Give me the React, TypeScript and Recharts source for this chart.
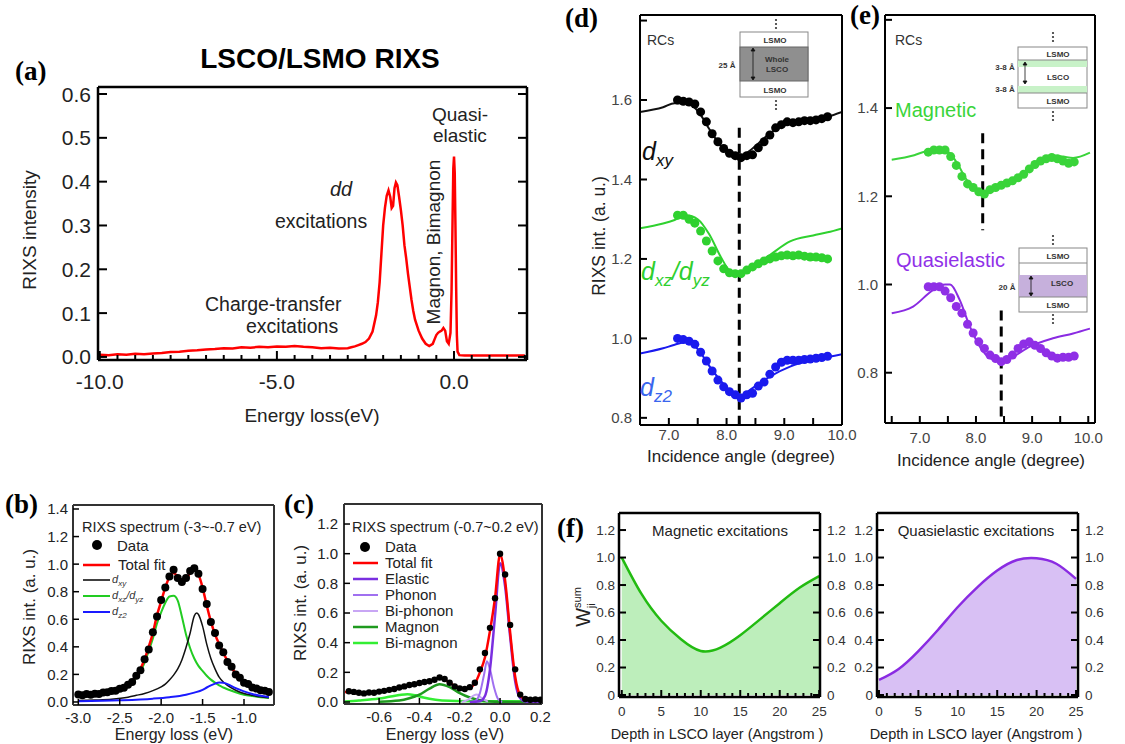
import { LineChart, Line, XAxis, YAxis, AreaChart, Area } from 'recharts'

const SANS = '"Liberation Sans", Arial, Helvetica, sans-serif'
const SERIF = '"Liberation Serif", "Times New Roman", serif'

// (a) full RIXS spectrum
const aEnergy = [-10.0, -9.75, -9.5, -9.25, -9.0, -8.75, -8.5, -8.25, -8.0, -7.75, -7.5, -7.25, -7.0, -6.75, -6.5, -6.25, -6.0, -5.75, -5.5, -5.25, -5.0, -4.75, -4.5, -4.25, -4.0, -3.75, -3.5, -3.25, -3.0, -2.9, -2.8, -2.7, -2.6, -2.5, -2.4, -2.3, -2.2, -2.15, -2.1, -2.05, -2.0, -1.95, -1.9, -1.85, -1.8, -1.76, -1.72, -1.68, -1.64, -1.6, -1.55, -1.5, -1.45, -1.4, -1.35, -1.3, -1.25, -1.2, -1.15, -1.1, -1.0, -0.9, -0.8, -0.7, -0.6, -0.55, -0.5, -0.45, -0.4, -0.35, -0.3, -0.25, -0.2, -0.15, -0.1, -0.07, -0.04, -0.02, 0.0, 0.02, 0.04, 0.06, 0.08, 0.1, 0.15, 0.3, 0.6, 1.0, 1.5, 2.0]
const aIntensity = [0.005, 0.004, 0.006, 0.005, 0.007, 0.006, 0.008, 0.009, 0.011, 0.012, 0.014, 0.015, 0.017, 0.018, 0.020, 0.019, 0.022, 0.021, 0.023, 0.022, 0.024, 0.023, 0.025, 0.023, 0.022, 0.020, 0.021, 0.019, 0.020, 0.022, 0.024, 0.027, 0.030, 0.034, 0.042, 0.058, 0.095, 0.125, 0.170, 0.235, 0.300, 0.340, 0.368, 0.380, 0.365, 0.340, 0.345, 0.385, 0.398, 0.392, 0.365, 0.335, 0.300, 0.255, 0.225, 0.190, 0.160, 0.130, 0.105, 0.085, 0.060, 0.042, 0.030, 0.025, 0.030, 0.040, 0.050, 0.055, 0.058, 0.060, 0.066, 0.060, 0.036, 0.030, 0.055, 0.150, 0.320, 0.430, 0.457, 0.420, 0.300, 0.160, 0.050, 0.012, 0.004, 0.003, 0.003, 0.003, 0.003, 0.003]
const aXTicks = [-10, -9.5, -9, -8.5, -8, -7.5, -7, -6.5, -6, -5.5, -5, -4.5, -4, -3.5, -3, -2.5, -2, -1.5, -1, -0.5, 0, 0.5, 1, 1.5, 2]
const aXMajor = [-10, -5, 0]
const aYTicks = [0, 0.1, 0.2, 0.3, 0.4, 0.5, 0.6]

// (b) dd region fit
const bE = [-3.0, -2.95, -2.9, -2.85, -2.8, -2.75, -2.7, -2.65, -2.6, -2.55, -2.5, -2.45, -2.4, -2.35, -2.3, -2.25, -2.2, -2.15, -2.1, -2.05, -2.0, -1.95, -1.9, -1.85, -1.8, -1.75, -1.7, -1.65, -1.6, -1.55, -1.5, -1.45, -1.4, -1.35, -1.3, -1.25, -1.2, -1.15, -1.1, -1.05, -1.0, -0.95, -0.9, -0.85, -0.8, -0.75, -0.7]
const bData = [0.055, 0.048, 0.057, 0.052, 0.060, 0.058, 0.068, 0.070, 0.080, 0.082, 0.096, 0.103, 0.125, 0.145, 0.190, 0.230, 0.310, 0.380, 0.505, 0.620, 0.740, 0.830, 0.910, 0.960, 0.900, 0.870, 0.900, 0.950, 0.970, 0.930, 0.820, 0.710, 0.580, 0.500, 0.410, 0.360, 0.290, 0.255, 0.200, 0.175, 0.140, 0.130, 0.105, 0.098, 0.085, 0.082, 0.072]
const bFit = [0.050, 0.052, 0.054, 0.056, 0.058, 0.062, 0.066, 0.071, 0.077, 0.084, 0.093, 0.105, 0.122, 0.148, 0.188, 0.240, 0.310, 0.400, 0.500, 0.630, 0.730, 0.830, 0.905, 0.935, 0.910, 0.880, 0.895, 0.935, 0.955, 0.925, 0.830, 0.700, 0.585, 0.490, 0.420, 0.355, 0.300, 0.250, 0.205, 0.170, 0.145, 0.125, 0.108, 0.095, 0.086, 0.079, 0.074]
const bXzE = [-3.0, -2.9, -2.8, -2.7, -2.6, -2.5, -2.45, -2.4, -2.35, -2.3, -2.25, -2.2, -2.15, -2.1, -2.05, -2.0, -1.95, -1.9, -1.85, -1.8, -1.75, -1.7, -1.65, -1.6, -1.55, -1.5, -1.45, -1.4, -1.35, -1.3, -1.25, -1.2, -1.1, -1.0, -0.9, -0.8, -0.7]
const bXz = [0.037, 0.042, 0.048, 0.056, 0.068, 0.085, 0.098, 0.115, 0.140, 0.175, 0.220, 0.285, 0.370, 0.460, 0.570, 0.650, 0.720, 0.765, 0.770, 0.735, 0.620, 0.490, 0.390, 0.315, 0.262, 0.225, 0.190, 0.162, 0.140, 0.120, 0.105, 0.092, 0.070, 0.053, 0.043, 0.035, 0.029]
const bXyE = [-3.0, -2.8, -2.6, -2.4, -2.3, -2.2, -2.1, -2.0, -1.95, -1.9, -1.85, -1.8, -1.75, -1.7, -1.65, -1.6, -1.57, -1.55, -1.5, -1.45, -1.4, -1.35, -1.3, -1.25, -1.2, -1.1, -1.0, -0.9, -0.8, -0.7]
const bXy = [0.010, 0.014, 0.020, 0.035, 0.048, 0.062, 0.082, 0.110, 0.130, 0.160, 0.195, 0.240, 0.305, 0.395, 0.500, 0.625, 0.645, 0.635, 0.550, 0.420, 0.315, 0.240, 0.180, 0.145, 0.120, 0.085, 0.062, 0.048, 0.037, 0.030]
const bZ2E = [-3.0, -2.5, -2.1, -1.9, -1.7, -1.6, -1.5, -1.45, -1.4, -1.35, -1.3, -1.25, -1.2, -1.15, -1.1, -1.0, -0.9, -0.8, -0.7]
const bZ2 = [0.005, 0.012, 0.024, 0.035, 0.053, 0.068, 0.088, 0.105, 0.120, 0.133, 0.142, 0.140, 0.130, 0.115, 0.100, 0.077, 0.058, 0.045, 0.036]
const bXTicks = [-3, -2.5, -2, -1.5, -1]
const bYTicks = [0, 0.2, 0.4, 0.6, 0.8, 1.0, 1.2, 1.4]

// (c) low-energy fit
const cE = [-0.75, -0.725, -0.7, -0.675, -0.65, -0.625, -0.6, -0.575, -0.55, -0.525, -0.5, -0.475, -0.45, -0.425, -0.4, -0.375, -0.35, -0.325, -0.3, -0.275, -0.25, -0.225, -0.2, -0.175, -0.15, -0.125, -0.1, -0.075, -0.05, -0.025, 0.0, 0.025, 0.05, 0.075, 0.1, 0.125, 0.15, 0.175, 0.2]
const cData = [0.072, 0.068, 0.062, 0.058, 0.064, 0.062, 0.070, 0.075, 0.082, 0.088, 0.098, 0.105, 0.115, 0.120, 0.128, 0.135, 0.140, 0.150, 0.165, 0.155, 0.130, 0.105, 0.092, 0.088, 0.100, 0.130, 0.220, 0.330, 0.500, 0.700, 1.000, 0.860, 0.520, 0.220, 0.050, 0.020, 0.015, 0.018, 0.015]
const cFitE = [-0.77, -0.75, -0.7, -0.65, -0.6, -0.55, -0.5, -0.45, -0.4, -0.35, -0.3, -0.275, -0.25, -0.225, -0.2, -0.175, -0.15, -0.125, -0.1, -0.075, -0.05, -0.025, 0.0, 0.025, 0.05, 0.075, 0.1, 0.125, 0.15, 0.2]
const cFit = [0.068, 0.066, 0.060, 0.060, 0.066, 0.080, 0.096, 0.112, 0.124, 0.140, 0.160, 0.150, 0.130, 0.110, 0.095, 0.090, 0.098, 0.125, 0.200, 0.300, 0.480, 0.700, 0.995, 0.820, 0.470, 0.170, 0.045, 0.020, 0.018, 0.018]
const cElasticE = [-0.15, -0.1, -0.075, -0.05, -0.025, 0.0, 0.025, 0.05, 0.075, 0.1, 0.125, 0.2]
const cElastic = [0.0, 0.005, 0.04, 0.22, 0.58, 0.935, 0.78, 0.44, 0.14, 0.025, 0.003, 0.0]
const cPhononE = [-0.14, -0.12, -0.1, -0.08, -0.065, -0.05, -0.03, -0.01, 0.01]
const cPhonon = [0.0, 0.01, 0.06, 0.18, 0.275, 0.22, 0.10, 0.02, 0.0]
const cBiPhononE = [-0.19, -0.16, -0.13, -0.115, -0.09, -0.06]
const cBiPhonon = [0.0, 0.015, 0.045, 0.05, 0.025, 0.003]
const cMagnonE = [-0.6, -0.5, -0.45, -0.4, -0.35, -0.3, -0.25, -0.2, -0.15, -0.1, -0.05, 0.0, 0.2]
const cMagnon = [0.002, 0.01, 0.025, 0.05, 0.09, 0.12, 0.10, 0.06, 0.03, 0.012, 0.004, 0.001, 0.0]
const cBiMagnonE = [-0.77, -0.7, -0.6, -0.55, -0.5, -0.46, -0.42, -0.38, -0.32, -0.25, -0.1, 0.2]
const cBiMagnon = [0.004, 0.01, 0.023, 0.035, 0.047, 0.053, 0.045, 0.03, 0.015, 0.008, 0.005, 0.004]
const cXTicks = [-0.6, -0.4, -0.2, 0, 0.2]
const cYTicks = [0, 0.2, 0.4, 0.6, 0.8, 1.0, 1.2]

// (d), (e) rocking curves
const rcAngle = [7.15, 7.25, 7.35, 7.45, 7.55, 7.65, 7.75, 7.85, 7.95, 8.05, 8.15, 8.25, 8.35, 8.45, 8.55, 8.65, 8.75, 8.85, 8.95, 9.05, 9.15, 9.25, 9.35, 9.45, 9.55, 9.65, 9.75]
const dXyDots = [1.600, 1.597, 1.595, 1.590, 1.570, 1.545, 1.515, 1.495, 1.478, 1.466, 1.460, 1.455, 1.460, 1.462, 1.480, 1.495, 1.512, 1.530, 1.538, 1.545, 1.543, 1.545, 1.548, 1.548, 1.550, 1.553, 1.558]
const dXzDots = [1.310, 1.310, 1.300, 1.290, 1.270, 1.245, 1.220, 1.195, 1.175, 1.165, 1.163, 1.163, 1.172, 1.180, 1.188, 1.195, 1.200, 1.205, 1.208, 1.210, 1.208, 1.210, 1.207, 1.205, 1.205, 1.203, 1.200]
const dZ2Dots = [1.000, 0.997, 0.993, 0.985, 0.965, 0.943, 0.918, 0.895, 0.878, 0.866, 0.858, 0.850, 0.858, 0.862, 0.880, 0.890, 0.910, 0.928, 0.940, 0.945, 0.945, 0.945, 0.947, 0.948, 0.950, 0.952, 0.955]
const dFitAngle = [6.5, 6.9, 7.1, 7.3, 7.5, 7.7, 7.9, 8.05, 8.22, 8.45, 8.75, 9.1, 9.5, 9.75, 10.0]
const dXyFit = [1.570, 1.582, 1.592, 1.592, 1.573, 1.527, 1.485, 1.466, 1.457, 1.478, 1.516, 1.543, 1.551, 1.558, 1.570]
const dXzFit = [1.277, 1.289, 1.298, 1.310, 1.300, 1.262, 1.205, 1.172, 1.164, 1.181, 1.210, 1.244, 1.259, 1.267, 1.277]
const dZ2Fit = [0.962, 0.975, 0.984, 0.991, 0.973, 0.931, 0.893, 0.870, 0.854, 0.875, 0.904, 0.929, 0.946, 0.953, 0.960]
const dMinAngle = 8.22

const eMagDots = [1.300, 1.305, 1.305, 1.305, 1.290, 1.270, 1.245, 1.228, 1.220, 1.210, 1.205, 1.215, 1.220, 1.225, 1.230, 1.235, 1.242, 1.250, 1.262, 1.272, 1.280, 1.285, 1.288, 1.285, 1.280, 1.275, 1.278]
const eQuasiDots = [0.995, 0.995, 0.995, 0.985, 0.970, 0.950, 0.935, 0.910, 0.890, 0.870, 0.855, 0.840, 0.832, 0.825, 0.830, 0.840, 0.855, 0.865, 0.870, 0.862, 0.855, 0.845, 0.838, 0.833, 0.835, 0.835, 0.838]
const eMagFitAngle = [6.5, 6.9, 7.12, 7.3, 7.48, 7.66, 7.83, 8.0, 8.12, 8.43, 8.78, 9.14, 9.37, 9.55, 9.73, 10.03]
const eMagFit = [1.283, 1.293, 1.302, 1.303, 1.302, 1.276, 1.238, 1.215, 1.204, 1.227, 1.249, 1.280, 1.292, 1.290, 1.287, 1.299]
const eQuasiFitAngle = [6.5, 6.88, 7.24, 7.45, 7.54, 7.71, 7.89, 8.07, 8.25, 8.46, 8.66, 8.96, 9.37, 9.73, 10.03]
const eQuasiFit = [0.935, 0.950, 0.988, 1.000, 1.000, 0.965, 0.905, 0.859, 0.833, 0.825, 0.836, 0.859, 0.878, 0.889, 0.900]
const eMagMin = 8.12
const eQuasiMin = 8.45
const rcXTicks = [6.5, 7, 7.5, 8, 8.5, 9, 9.5, 10]
const rcXMajor = [7, 8, 9, 10]
const dYTicks = [0.8, 1.0, 1.2, 1.4, 1.6, 1.8]
const dYLabeled = [0.8, 1.0, 1.2, 1.4, 1.6]
const eYTicks = [0.8, 1.0, 1.2, 1.4, 1.6]
const eYLabeled = [0.8, 1.0, 1.2, 1.4]

// (f) depth profiles
const fDepth = [0, 2.5, 5, 7.5, 10, 12.5, 15, 17.5, 20, 22.5, 25]
const fMagnetic = [1.0, 0.735, 0.54, 0.405, 0.32, 0.345, 0.435, 0.55, 0.668, 0.78, 0.865]
const fQuasi = [0.11, 0.19, 0.32, 0.475, 0.64, 0.785, 0.905, 0.982, 0.995, 0.955, 0.845]
const fXTicks = [0, 1, 2, 3, 4, 5, 6, 7, 8, 9, 10, 11, 12, 13, 14, 15, 16, 17, 18, 19, 20, 21, 22, 23, 24, 25]
const fXMajor = [0, 5, 10, 15, 20, 25]
const fYTicks = [0, 0.2, 0.4, 0.6, 0.8, 1.0, 1.2]

const pts = (xs: number[], ys: number[]) => xs.map((x, i) => ({ x, y: ys[i] }))
const f1 = (v: number) => v.toFixed(1)
const fz = (v: number) => (v === 0 ? '0' : v.toFixed(1))

type TickStyle = { len: number; minor?: number; major?: number[]; fmt?: (v: number) => string; fs?: number; off?: number; fill?: string; w?: number }
const isMajor = (s: TickStyle, v: number) => !s.major || s.major.some((m) => Math.abs(m - v) < 1e-6)

const bottomTick = (s: TickStyle) => (p: any) => {
    const v = p.payload.value
    const m = isMajor(s, v)
    return (
        <g>
            <line x1={p.x} x2={p.x} y1={p.y} y2={p.y - (m ? s.len : s.minor ?? s.len)} stroke="#000" strokeWidth={s.w ?? 1.5} />
            {m && s.fmt ? (
                <text x={p.x} y={p.y + (s.off ?? 18)} textAnchor="middle" fontFamily={SANS} fontSize={s.fs ?? 15} fill={s.fill ?? '#222'}>{s.fmt(v)}</text>
            ) : null}
        </g>
    )
}
const leftTick = (s: TickStyle) => (p: any) => {
    const v = p.payload.value
    const m = isMajor(s, v)
    const fs = s.fs ?? 15
    return (
        <g>
            <line x1={p.x} x2={p.x + s.len} y1={p.y} y2={p.y} stroke="#000" strokeWidth={s.w ?? 1.5} />
            {m && s.fmt ? (
                <text x={p.x - (s.off ?? 6)} y={p.y + fs * 0.36} textAnchor="end" fontFamily={SANS} fontSize={fs} fill={s.fill ?? '#222'}>{s.fmt(v)}</text>
            ) : null}
        </g>
    )
}
const rightTick = (s: TickStyle) => (p: any) => {
    const v = p.payload.value
    const fs = s.fs ?? 15
    return (
        <g>
            <line x1={p.x} x2={p.x - s.len} y1={p.y} y2={p.y} stroke="#000" strokeWidth={s.w ?? 1.5} />
            {s.fmt ? (
                <text x={p.x + (s.off ?? 6)} y={p.y + fs * 0.36} textAnchor="start" fontFamily={SANS} fontSize={fs} fill={s.fill ?? '#222'}>{s.fmt(v)}</text>
            ) : null}
        </g>
    )
}

type Box = { l: number; t: number; r: number; b: number }
// every axis gets 1px of room (recharts skips axes of zero size), so margins lose 1px each
function place(b: Box, pl: number, pt: number, pr: number, pb: number) {
    return {
        style: { position: 'absolute' as const, left: b.l - pl, top: b.t - pt },
        width: b.r - b.l + pl + pr,
        height: b.b - b.t + pt + pb,
        margin: { left: pl - 1, top: pt - 1, right: pr - 1, bottom: pb - 1 },
    }
}

// 4 axes around the plot = the frame, ticks drawn inward
function frame(xd: [number, number], yd: [number, number], xTicks: number[], yTicks: number[], xs: TickStyle, ys: TickStyle, o: { sw: number; col: string; rs?: TickStyle }) {
    const line = { stroke: o.col, strokeWidth: o.sw }
    return [
        <XAxis key="xb" dataKey="x" type="number" domain={xd} allowDataOverflow ticks={xTicks} interval={0} tick={bottomTick(xs)} tickLine={false} tickSize={0} tickMargin={0} height={1} axisLine={line} />,
        <XAxis key="xt" xAxisId="t" orientation="top" dataKey="x" type="number" domain={xd} allowDataOverflow ticks={xTicks} tick={false} tickLine={false} height={1} axisLine={line} />,
        <YAxis key="yl" type="number" domain={yd} allowDataOverflow ticks={yTicks} interval={0} tick={leftTick(ys)} tickLine={false} tickSize={0} tickMargin={0} width={1} axisLine={line} />,
        <YAxis key="yr" yAxisId="r" orientation="right" type="number" domain={yd} allowDataOverflow ticks={yTicks} interval={0} tick={o.rs ? rightTick(o.rs) : false} tickLine={false} tickSize={0} tickMargin={0} width={1} axisLine={line} />,
    ]
}

const curve = (data: { x: number; y: number }[], color: string, w: number, type: any = 'monotone') => (
    <Line data={data} dataKey="y" type={type} stroke={color} strokeWidth={w} dot={false} activeDot={false} isAnimationActive={false} />
)
const dots = (data: { x: number; y: number }[], color: string, r: number) => (
    <Line data={data} dataKey="y" stroke="none" dot={{ r, fill: color, stroke: 'none' }} activeDot={false} isAnimationActive={false} />
)
const dash = (x: number, y1: number, y2: number) => (
    <Line data={[{ x, y: y1 }, { x, y: y2 }]} dataKey="y" type="linear" stroke="#000" strokeWidth={3} strokeDasharray="10 6" dot={false} activeDot={false} isAnimationActive={false} />
)

const vArrow = (x: number, y1: number, y2: number) => (
    <g stroke="#111" fill="#111" strokeWidth={0.8}>
        <line x1={x} x2={x} y1={y1 + 2} y2={y2 - 2} />
        <path d={`M${x - 2},${y1 + 3} L${x},${y1} L${x + 2},${y1 + 3} Z`} />
        <path d={`M${x - 2},${y2 - 3} L${x},${y2} L${x + 2},${y2 - 3} Z`} />
    </g>
)
const vDots = (x: number, y: number) => (
    <g fill="#333">
        <circle cx={x} cy={y} r={1.1} />
        <circle cx={x} cy={y + 4} r={1.1} />
        <circle cx={x} cy={y + 8} r={1.1} />
    </g>
)

const Overlay = () => (
    <svg width={1125} height={744} style={{ position: 'absolute', left: 0, top: 0, pointerEvents: 'none' }} fontFamily={SANS}>
        {/* (a) */}
        <text x={15} y={80} fontFamily={SERIF} fontWeight="bold" fontSize={27}>(a)</text>
        <text x={320} y={68} textAnchor="middle" fontWeight="bold" fontSize={28}>LSCO/LSMO RIXS</text>
        <text transform="translate(36 230) rotate(-90)" textAnchor="middle" fontSize={19} fill="#222">RIXS intensity</text>
        <text x={312} y={422} textAnchor="middle" fontSize={19} fill="#222">Energy loss(eV)</text>
        <text x={330} y={196} fontStyle="italic" fontSize={20} fill="#222">dd</text>
        <text x={275} y={228} fontSize={19.5} fill="#222">excitations</text>
        <text x={205} y={311} fontSize={19.5} fill="#222">Charge-transfer</text>
        <text x={246} y={333} fontSize={19.5} fill="#222">excitations</text>
        <text transform="translate(440 242) rotate(-90)" textAnchor="middle" fontSize={19} fill="#222">Magnon, Bimagnon</text>
        <text x={432} y={121} fontSize={19} fill="#222">Quasi-</text>
        <text x={433} y={142} fontSize={19} fill="#222">elastic</text>

        {/* (b) */}
        <text x={5} y={513} fontFamily={SERIF} fontWeight="bold" fontSize={27}>(b)</text>
        <text transform="translate(35 607) rotate(-90)" textAnchor="middle" fontSize={17} fill="#222">RIXS int. (a. u.)</text>
        <text x={174} y={740} textAnchor="middle" fontSize={16} fill="#222">Energy loss (eV)</text>
        <text x={82} y={532} fontSize={14.5} fill="#222">RIXS spectrum (-3~-0.7 eV)</text>
        <circle cx={97} cy={545} r={5} fill="#000" />
        <text x={117} y={551} fontSize={15} fill="#222">Data</text>
        <line x1={83} x2={110} y1={565} y2={565} stroke="#ff0000" strokeWidth={2.5} />
        <text x={118} y={570} fontSize={15} fill="#222">Total fit</text>
        <line x1={83} x2={110} y1={580} y2={580} stroke="#000" strokeWidth={1.5} />
        <text x={112} y={583} fontSize={11} fontStyle="italic" fill="#333">d<tspan fontSize={8} dy={3}>xy</tspan></text>
        <line x1={83} x2={110} y1={596} y2={596} stroke="#22cc22" strokeWidth={2} />
        <text x={112} y={599} fontSize={11} fontStyle="italic" fill="#333">d<tspan fontSize={8} dy={3}>xz</tspan><tspan dy={-3}>/d</tspan><tspan fontSize={8} dy={3}>yz</tspan></text>
        <line x1={83} x2={110} y1={612} y2={612} stroke="#1a1aff" strokeWidth={2} />
        <text x={112} y={615} fontSize={11} fontStyle="italic" fill="#333">d<tspan fontSize={8} dy={3}>z2</tspan></text>

        {/* (c) */}
        <text x={284} y={513} fontFamily={SERIF} fontWeight="bold" fontSize={27}>(c)</text>
        <text transform="translate(306 603) rotate(-90)" textAnchor="middle" fontSize={17} fill="#222">RIXS int. (a. u.)</text>
        <text x={445} y={740} textAnchor="middle" fontSize={16} fill="#222">Energy loss (eV)</text>
        <text x={352} y={532} fontSize={14.5} fill="#222">RIXS spectrum (-0.7~0.2 eV)</text>
        <circle cx={365} cy={547} r={5} fill="#000" />
        <text x={385} y={552} fontSize={15} fill="#222">Data</text>
        <line x1={353} x2={378} y1={563} y2={563} stroke="#ff0000" strokeWidth={2.5} />
        <text x={385} y={568} fontSize={15} fill="#222">Total fit</text>
        <line x1={353} x2={378} y1={579} y2={579} stroke="#7a2fe0" strokeWidth={2.5} />
        <text x={385} y={584} fontSize={15} fill="#222">Elastic</text>
        <line x1={353} x2={378} y1={595} y2={595} stroke="#a070f0" strokeWidth={2} />
        <text x={385} y={600} fontSize={15} fill="#222">Phonon</text>
        <line x1={353} x2={378} y1={611} y2={611} stroke="#c8a6f4" strokeWidth={2} />
        <text x={385} y={616} fontSize={15} fill="#222">Bi-phonon</text>
        <line x1={353} x2={378} y1={627} y2={627} stroke="#1f9a1f" strokeWidth={2.5} />
        <text x={385} y={632} fontSize={15} fill="#222">Magnon</text>
        <line x1={353} x2={378} y1={643} y2={643} stroke="#33ee33" strokeWidth={2.5} />
        <text x={385} y={648} fontSize={15} fill="#222">Bi-magnon</text>

        {/* (d) */}
        <text x={565} y={27} fontFamily={SERIF} fontWeight="bold" fontSize={27}>(d)</text>
        <text x={647} y={45} fontSize={14} fill="#333">RCs</text>
        <text transform="translate(605 236) rotate(-90)" textAnchor="middle" fontSize={17.5} fill="#222">RIXS int. (a. u.)</text>
        <text x={741} y={462} textAnchor="middle" fontSize={17} fill="#222">Incidence angle (degree)</text>
        <text x={642} y={160} fontStyle="italic" fontSize={25} fill="#111">d<tspan fontSize={17} dy={6}>xy</tspan></text>
        <text x={641} y={280} fontStyle="italic" fontSize={25} fill="#2fcf2f">d<tspan fontSize={17} dy={6}>xz</tspan><tspan dy={-6}>/d</tspan><tspan fontSize={17} dy={6}>yz</tspan></text>
        <text x={640} y={396} fontStyle="italic" fontSize={25} fill="#3a66ee">d<tspan fontSize={17} dy={6}>z2</tspan></text>
        <g fontWeight="bold" fontSize={8} fill="#333" textAnchor="middle">
            <rect x={740} y={32} width={68} height={65} fill="#fff" stroke="#888" strokeWidth={1} />
            <rect x={740} y={47} width={68} height={34} fill="#8f8f8f" stroke="#666" strokeWidth={1} />
            <text x={775} y={43}>LSMO</text>
            <text x={777} y={62}>Whole</text>
            <text x={777} y={72}>LSCO</text>
            <text x={775} y={93}>LSMO</text>
            <text x={727} y={68}>25 Å</text>
        </g>
        {vArrow(753, 48, 80)}
        {vDots(776, 20)}
        {vDots(776, 101)}

        {/* (e) */}
        <text x={850} y={24} fontFamily={SERIF} fontWeight="bold" fontSize={27}>(e)</text>
        <text x={895} y={45} fontSize={14} fill="#333">RCs</text>
        <text x={895} y={117} fontSize={20} fill="#3ad43a">Magnetic</text>
        <text x={896} y={267} fontSize={20} fill="#9030e8">Quasielastic</text>
        <text x={991} y={466} textAnchor="middle" fontSize={17} fill="#222">Incidence angle (degree)</text>
        <g fontWeight="bold" fontSize={8} fill="#333" textAnchor="middle">
            <rect x={1018} y={47} width={69} height={61} fill="#fff" stroke="#888" strokeWidth={1} />
            <rect x={1018} y={60} width={69} height={7} fill="#c8f2c8" />
            <rect x={1018} y={86} width={69} height={7} fill="#c8f2c8" />
            <line x1={1018} x2={1087} y1={60} y2={60} stroke="#888" />
            <line x1={1018} x2={1087} y1={93} y2={93} stroke="#888" />
            <text x={1058} y={57}>LSMO</text>
            <text x={1058} y={80}>LSCO</text>
            <text x={1058} y={104}>LSMO</text>
            <text x={1005} y={70}>3-8 Å</text>
            <text x={1005} y={92}>3-8 Å</text>
            <rect x={1019} y={248} width={68} height={64} fill="#fff" stroke="#888" strokeWidth={1} />
            <rect x={1019} y={275} width={68} height={22} fill="#c6b0dc" />
            <line x1={1019} x2={1087} y1={263} y2={263} stroke="#888" />
            <line x1={1019} x2={1087} y1={297} y2={297} stroke="#888" />
            <text x={1058} y={259}>LSMO</text>
            <text x={1062} y={286}>LSCO</text>
            <text x={1058} y={308}>LSMO</text>
            <text x={1007} y={290}>20 Å</text>
        </g>
        {vArrow(1025, 62, 84)}
        {vArrow(1031, 276, 296)}
        {vDots(1053, 33)}
        {vDots(1053, 112)}
        {vDots(1053, 236)}
        {vDots(1053, 315)}

        {/* (f) */}
        <text x={557} y={537} fontFamily={SERIF} fontWeight="bold" fontSize={27}>(f)</text>
        <text transform="translate(590 607) rotate(-90)" textAnchor="middle" fontSize={20} fill="#222">W<tspan fontSize={11} dy={-9}>sum</tspan><tspan fontSize={11} dx={-21} dy={14}>ji</tspan></text>
        <text x={720} y={536} textAnchor="middle" fontSize={15} fill="#222">Magnetic excitations</text>
        <text x={976} y={536} textAnchor="middle" fontSize={15} fill="#222">Quasielastic excitations</text>
        <text x={717} y={739} textAnchor="middle" fontSize={14.5} fill="#222">Depth in LSCO layer (Angstrom )</text>
        <text x={976} y={739} textAnchor="middle" fontSize={14.5} fill="#222">Depth in LSCO layer (Angstrom )</text>
    </svg>
)

export default function App() {
    const A = place({ l: 98, t: 87, r: 527, b: 360 }, 75, 10, 20, 40)
    const B = place({ l: 73, t: 505, r: 274, b: 705 }, 45, 5, 10, 30)
    const C = place({ l: 344, t: 504, r: 542, b: 704 }, 45, 5, 15, 30)
    const D = place({ l: 640, t: 15, r: 842, b: 425 }, 40, 5, 25, 25)
    const E = place({ l: 885, t: 15, r: 1095, b: 423 }, 40, 5, 20, 30)
    const F1 = place({ l: 619, t: 513, r: 820, b: 697 }, 30, 5, 30, 25)
    const F2 = place({ l: 877, t: 513, r: 1078, b: 697 }, 30, 5, 30, 25)

    return (
        <div style={{ position: 'absolute', left: 0, top: 0, width: 1125, height: 744, background: '#fff', overflow: 'hidden', fontFamily: SANS }}>
            <div style={A.style}>
                <LineChart width={A.width} height={A.height} margin={A.margin}>
                    {frame([-10.05, 2.06], [-0.007, 0.616], aXTicks, aYTicks,
                        { len: 9, minor: 5, major: aXMajor, fmt: f1, fs: 21, off: 29, w: 2 },
                        { len: 9, fmt: f1, fs: 21, off: 7, w: 2 },
                        { sw: 2.5, col: '#000', rs: { len: 9, w: 2 } })}
                    {curve(pts(aEnergy, aIntensity), '#ff0000', 2.5, 'linear')}
                </LineChart>
            </div>

            <div style={B.style}>
                <LineChart width={B.width} height={B.height} margin={B.margin}>
                    {frame([-3.064, -0.638], [-0.022, 1.429], bXTicks, bYTicks,
                        { len: 6, fmt: f1, fs: 15, off: 18 },
                        { len: 6, fmt: f1, fs: 15, off: 5 },
                        { sw: 2, col: '#333' })}
                    {curve(pts(bXzE, bXz), '#22cc22', 2)}
                    {curve(pts(bXyE, bXy), '#111', 1.5)}
                    {curve(pts(bZ2E, bZ2), '#1a1aff', 2)}
                    {dots(pts(bE, bData), '#000', 4)}
                    {curve(pts(bE, bFit), '#ff0000', 2.5)}
                </LineChart>
            </div>

            <div style={C.style}>
                <LineChart width={C.width} height={C.height} margin={C.margin}>
                    {frame([-0.774, 0.208], [-0.0135, 1.335], cXTicks, cYTicks,
                        { len: 6, fmt: f1, fs: 15, off: 18 },
                        { len: 6, fmt: f1, fs: 15, off: 6 },
                        { sw: 2, col: '#333' })}
                    {curve(pts(cBiMagnonE, cBiMagnon), '#33ee33', 2.5)}
                    {curve(pts(cMagnonE, cMagnon), '#1f9a1f', 2.5)}
                    {curve(pts(cBiPhononE, cBiPhonon), '#c8a6f4', 2)}
                    {curve(pts(cPhononE, cPhonon), '#a070f0', 2)}
                    {curve(pts(cElasticE, cElastic), '#7a2fe0', 2.5)}
                    {curve(pts(cFitE, cFit), '#ff0000', 2.5)}
                    {dots(pts(cE, cData), '#000', 3.2)}
                </LineChart>
            </div>

            <div style={D.style}>
                <LineChart width={D.width} height={D.height} margin={D.margin}>
                    {frame([6.5, 10.0], [0.782, 1.814], rcXTicks, dYTicks,
                        { len: 7, major: rcXMajor, fmt: f1, fs: 15, off: 15, fill: '#444', w: 2 },
                        { len: 7, major: dYLabeled, fmt: f1, fs: 15, off: 8, fill: '#444', w: 2 },
                        { sw: 2, col: '#000' })}
                    {curve(pts(dFitAngle, dXyFit), '#111', 2)}
                    {curve(pts(dFitAngle, dXzFit), '#2fd12f', 2)}
                    {curve(pts(dFitAngle, dZ2Fit), '#1a1aee', 2)}
                    {dots(pts(rcAngle, dXyDots), '#000', 4.5)}
                    {dots(pts(rcAngle, dXzDots), '#2fd12f', 4.5)}
                    {dots(pts(rcAngle, dZ2Dots), '#1a1aee', 4.5)}
                    {dash(dMinAngle, 1.53, 0.782)}
                </LineChart>
            </div>

            <div style={E.style}>
                <LineChart width={E.width} height={E.height} margin={E.margin}>
                    {frame([6.38, 10.12], [0.686, 1.611], rcXTicks, eYTicks,
                        { len: 7, major: rcXMajor, fmt: f1, fs: 15, off: 20, fill: '#444', w: 2 },
                        { len: 7, major: eYLabeled, fmt: f1, fs: 15, off: 7, fill: '#444', w: 2 },
                        { sw: 2, col: '#000' })}
                    {curve(pts(eMagFitAngle, eMagFit), '#3ad43a', 2)}
                    {curve(pts(eQuasiFitAngle, eQuasiFit), '#8a2be2', 2)}
                    {dots(pts(rcAngle, eMagDots), '#3ad43a', 4.5)}
                    {dots(pts(rcAngle, eQuasiDots), '#8f2fe6', 4.5)}
                    {dash(eMagMin, 1.343, 1.123)}
                    {dash(eQuasiMin, 0.941, 0.686)}
                </LineChart>
            </div>

            <div style={F1.style}>
                <AreaChart width={F1.width} height={F1.height} margin={F1.margin} data={pts(fDepth, fMagnetic)}>
                    {frame([-0.35, 25.1], [-0.0145, 1.324], fXTicks, fYTicks,
                        { len: 7, minor: 4, major: fXMajor, fmt: String, fs: 13.5, off: 19, fill: '#333', w: 2 },
                        { len: 7, fmt: fz, fs: 13.5, off: 4, fill: '#333', w: 2 },
                        { sw: 2.5, col: '#000', rs: { len: 7, fmt: fz, fs: 13.5, off: 7, fill: '#333', w: 2 } })}
                    <Area dataKey="y" type="natural" stroke="#22bb11" strokeWidth={2.5} fill="#bdeebb" fillOpacity={1} baseValue={0} isAnimationActive={false} activeDot={false} />
                </AreaChart>
            </div>

            <div style={F2.style}>
                <AreaChart width={F2.width} height={F2.height} margin={F2.margin} data={pts(fDepth, fQuasi)}>
                    {frame([-0.25, 25.25], [-0.0145, 1.324], fXTicks, fYTicks,
                        { len: 7, minor: 4, major: fXMajor, fmt: String, fs: 13.5, off: 19, fill: '#333', w: 2 },
                        { len: 7, fmt: fz, fs: 13.5, off: 4, fill: '#333', w: 2 },
                        { sw: 2.5, col: '#000', rs: { len: 7, fmt: fz, fs: 13.5, off: 7, fill: '#333', w: 2 } })}
                    <Area dataKey="y" type="natural" stroke="#8a2be2" strokeWidth={2.5} fill="#d8c0f4" fillOpacity={1} baseValue={0} isAnimationActive={false} activeDot={false} />
                </AreaChart>
            </div>

            <Overlay />
        </div>
    )
}
